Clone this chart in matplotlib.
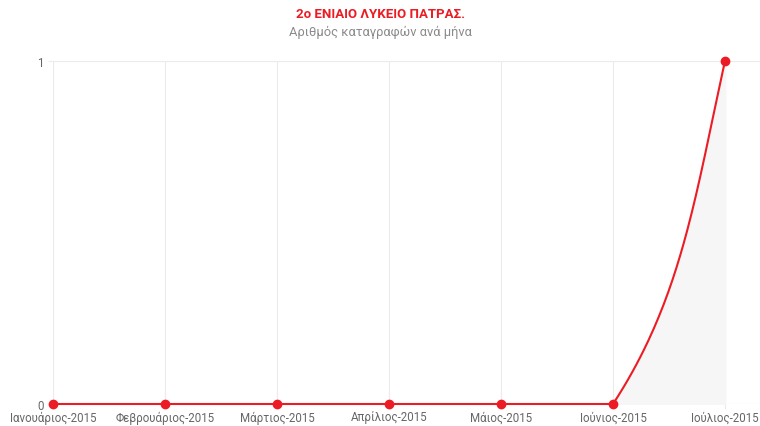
import numpy as np
from matplotlib import pyplot as plt

plt.rcParams["font.family"] = ["Roboto", "DejaVu Sans"]

months = ["Ιανουάριος-2015", "Φεβρουάριος-2015", "Μάρτιος-2015", "Απρίλιος-2015",
          "Μάιος-2015", "Ιούνιος-2015", "Ιούλιος-2015"]
counts = [0, 0, 0, 0, 0, 0, 1]
title = "2o ΕΝΙΑΙΟ ΛΥΚΕΙΟ ΠΑΤΡΑΣ."
subtitle = "Αριθμός καταγραφών ανά μήνα"

red = "#ec1c24"
grid = "#ebebeb"

W, H = 760, 427
fig = plt.figure(figsize=(W / 100, H / 100), dpi=100)
left, right, top, bottom = 53, 760, 62, 405
ax = fig.add_axes([left / W, (H - bottom) / H, (right - left) / W, (bottom - top) / H])

xs = np.arange(len(months), dtype=float)
ys = np.array(counts, dtype=float)
ymax = 1
xmax = (len(months) - 1) + (right - 725) / 112
ax.set_xlim(0, xmax)
ax.set_ylim(0, ymax)

# smooth line (chart.js-like bezier, tension 0.4), computed in pixel space
sx = (right - left) / xmax
sy = (bottom - top) / ymax
px, py = xs * sx, ys * sy
t = 0.4
t_end_x = 0.27  # flatter handle in x at the ends, closer to the reference shape
n = len(px)
cp_prev = np.zeros((n, 2))
cp_next = np.zeros((n, 2))
for i in range(n):
    cur = np.array([px[i], py[i]])
    prv = np.array([px[max(i - 1, 0)], py[max(i - 1, 0)]])
    nxt = np.array([px[min(i + 1, n - 1)], py[min(i + 1, n - 1)]])
    d01 = np.hypot(*(cur - prv))
    d12 = np.hypot(*(nxt - cur))
    tot = d01 + d12
    fa = t * d01 / tot if tot else 0
    fb = t * d12 / tot if tot else 0
    cp_prev[i] = cur - fa * (nxt - prv)
    cp_next[i] = cur + fb * (nxt - prv)
    if i == n - 1:
        cp_prev[i, 0] = cur[0] - t_end_x * (nxt[0] - prv[0])
for cp in (cp_prev, cp_next):
    cp[:, 0] = np.clip(cp[:, 0], 0, px[-1])
    cp[:, 1] = np.clip(cp[:, 1], 0, ymax * sy)

u = np.linspace(0, 1, 80)[:, None]
curve = []
for i in range(n - 1):
    p0 = np.array([px[i], py[i]])
    p3 = np.array([px[i + 1], py[i + 1]])
    p1, p2 = cp_next[i], cp_prev[i + 1]
    seg = (1 - u) ** 3 * p0 + 3 * (1 - u) ** 2 * u * p1 + 3 * (1 - u) * u ** 2 * p2 + u ** 3 * p3
    curve.append(seg)
curve = np.vstack(curve)
cx, cy = curve[:, 0] / sx, curve[:, 1] / sy

ax.fill_between(cx, cy, 0, color="#f6f6f6", zorder=1)
ax.plot(cx, cy, color=red, lw=1.5, zorder=3, clip_on=False)
ax.plot(xs, ys, "o", color=red, ms=6, zorder=4, clip_on=False)

ax.set_xticks(xs)
ax.set_xticklabels(months)
ax.set_yticks([0, 1])
ax.grid(True, color=grid, lw=0.8)
ax.set_axisbelow(True)
for s in ax.spines.values():
    s.set_visible(False)
ax.tick_params(axis="both", length=3.6, color=grid, labelcolor="#666666", labelsize=8.3)
ax.tick_params(axis="x", pad=1)
ax.tick_params(axis="y", pad=3)

fig.text(0.5, 1 - 14 / H, title, ha="center", va="center", color=red,
         fontsize=9.5, fontweight="bold")
fig.text(0.5, 1 - 32 / H, subtitle, ha="center", va="center", color="#8a8a8a",
         fontsize=9.3)

fig.savefig("out.png", dpi=100)
